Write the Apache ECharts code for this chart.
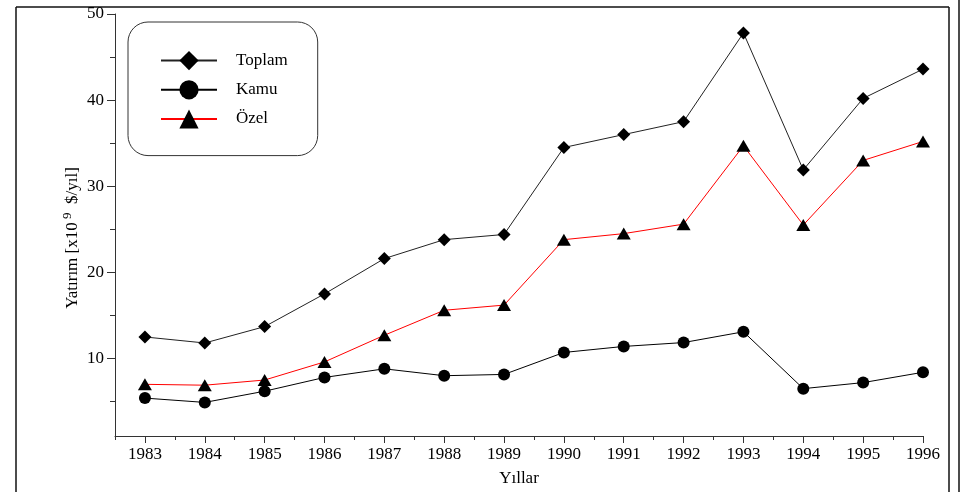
<!DOCTYPE html>
<html>
<head>
<meta charset="utf-8">
<script src="https://cdn.jsdelivr.net/npm/echarts@6/dist/echarts.min.js"></script>
<style>
  html, body { margin: 0; padding: 0; background: #fff; }
  #chart { width: 971px; height: 492px; }
</style>
</head>
<body>
<div id="chart"></div>
<script>
// yillar ve degerler
var years = [1983, 1984, 1985, 1986, 1987, 1988, 1989, 1990, 1991, 1992, 1993, 1994, 1995, 1996];
var halfYears = [1982.5, 1983.5, 1984.5, 1985.5, 1986.5, 1987.5, 1988.5, 1989.5, 1990.5, 1991.5, 1992.5, 1993.5, 1994.5, 1995.5];
var toplam = [12.5, 11.8, 13.7, 17.5, 21.6, 23.8, 24.4, 34.5, 36.0, 37.5, 47.8, 31.9, 40.2, 43.6];
var kamu = [5.4, 4.9, 6.2, 7.8, 8.8, 8.0, 8.15, 10.7, 11.4, 11.85, 13.1, 6.5, 7.2, 8.4];
var ozel = [7.0, 6.9, 7.5, 9.6, 12.7, 15.6, 16.2, 23.8, 24.5, 25.6, 34.7, 25.5, 33.0, 35.2];
var yMajor = [10, 20, 30, 40, 50];
var yMinor = [5, 15, 25, 35, 45];

function pairs(vals) {
    return years.map(function (y, i) { return [y, vals[i]]; });
}

var font = 'Liberation Serif';
var chart = echarts.init(document.getElementById('chart'));

var option = {
    animation: false,
    backgroundColor: '#fff',
    textStyle: { fontFamily: font },
    grid: { left: 115, right: 48, top: 14, bottom: 54, containLabel: false },
    legend: {
        orient: 'vertical',
        left: 128,
        top: 22,
        padding: [29, 30, 27, 32],
        itemWidth: 56,
        itemHeight: 24,
        itemGap: 10,
        borderColor: '#333',
        borderWidth: 1,
        borderRadius: 20,
        textStyle: { fontFamily: font, fontSize: 17, color: '#000', padding: [0, 0, 0, 14] },
        data: ['Toplam', 'Kamu', 'Özel']
    },
    xAxis: [
        {
            type: 'value',
            min: 1982.5,
            max: 1996,
            name: 'Yıllar',
            nameLocation: 'middle',
            nameGap: 34,
            nameTextStyle: { fontFamily: font, fontSize: 17, color: '#000' },
            splitLine: { show: false },
            axisLine: { show: true, lineStyle: { color: '#333', width: 1 } },
            axisTick: { show: true, length: 7, customValues: years, lineStyle: { color: '#333' } },
            axisLabel: {
                customValues: years,
                margin: 10,
                fontFamily: font,
                fontSize: 17,
                color: '#000',
                formatter: function (v) { return String(v); }
            }
        },
        {
            type: 'value',
            min: 1982.5,
            max: 1996,
            position: 'bottom',
            splitLine: { show: false },
            axisLine: { show: false },
            axisLabel: { show: false },
            axisTick: { show: true, length: 4, customValues: halfYears, lineStyle: { color: '#333' } }
        }
    ],
    yAxis: [
        {
            type: 'value',
            min: 1,
            max: 50,
            name: 'Yatırım [x10{sup| 9}  $/yıl]',
            nameLocation: 'middle',
            nameGap: 31,
            nameMoveOverlap: false,
            nameRotate: 90,
            nameTextStyle: {
                fontFamily: font,
                fontSize: 17,
                color: '#000',
                padding: [0, 26, 0, 0],
                rich: {
                    sup: { fontFamily: font, fontSize: 13, color: '#000', padding: [0, 0, 10, 0] }
                }
            },
            splitLine: { show: false },
            axisLine: { show: true, lineStyle: { color: '#333', width: 1 } },
            axisTick: { show: true, length: 8, customValues: yMajor, lineStyle: { color: '#333' } },
            axisLabel: {
                customValues: yMajor,
                margin: 11,
                fontFamily: font,
                fontSize: 17,
                color: '#000'
            }
        },
        {
            type: 'value',
            min: 1,
            max: 50,
            position: 'left',
            splitLine: { show: false },
            axisLine: { show: false },
            axisLabel: { show: false },
            axisTick: { show: true, length: 5, customValues: yMinor, lineStyle: { color: '#333' } }
        }
    ],
    graphic: [
        { type: 'line', shape: { x1: 16, y1: 7, x2: 949, y2: 7 }, style: { stroke: '#111', lineWidth: 1.5 } },
        { type: 'line', shape: { x1: 16, y1: 7, x2: 16, y2: 492 }, style: { stroke: '#111', lineWidth: 1.5 } },
        { type: 'line', shape: { x1: 949, y1: 7, x2: 949, y2: 492 }, style: { stroke: '#111', lineWidth: 1.5 } },
        { type: 'line', shape: { x1: 959, y1: 0, x2: 959, y2: 492 }, style: { stroke: '#111', lineWidth: 1.5 } }
    ],
    series: [
        {
            name: 'Toplam',
            type: 'line',
            data: pairs(toplam),
            symbol: 'diamond',
            symbolSize: [13, 13],
            itemStyle: { color: '#000' },
            lineStyle: { color: '#222', width: 1 }
        },
        {
            name: 'Kamu',
            type: 'line',
            data: pairs(kamu),
            symbol: 'circle',
            symbolSize: 12,
            itemStyle: { color: '#000' },
            lineStyle: { color: '#000', width: 1 }
        },
        {
            name: 'Özel',
            type: 'line',
            data: pairs(ozel),
            symbol: 'triangle',
            symbolSize: [14, 12],
            itemStyle: { color: '#000' },
            lineStyle: { color: '#ff0000', width: 1 }
        }
    ]
};

chart.setOption(option);
</script>
</body>
</html>
